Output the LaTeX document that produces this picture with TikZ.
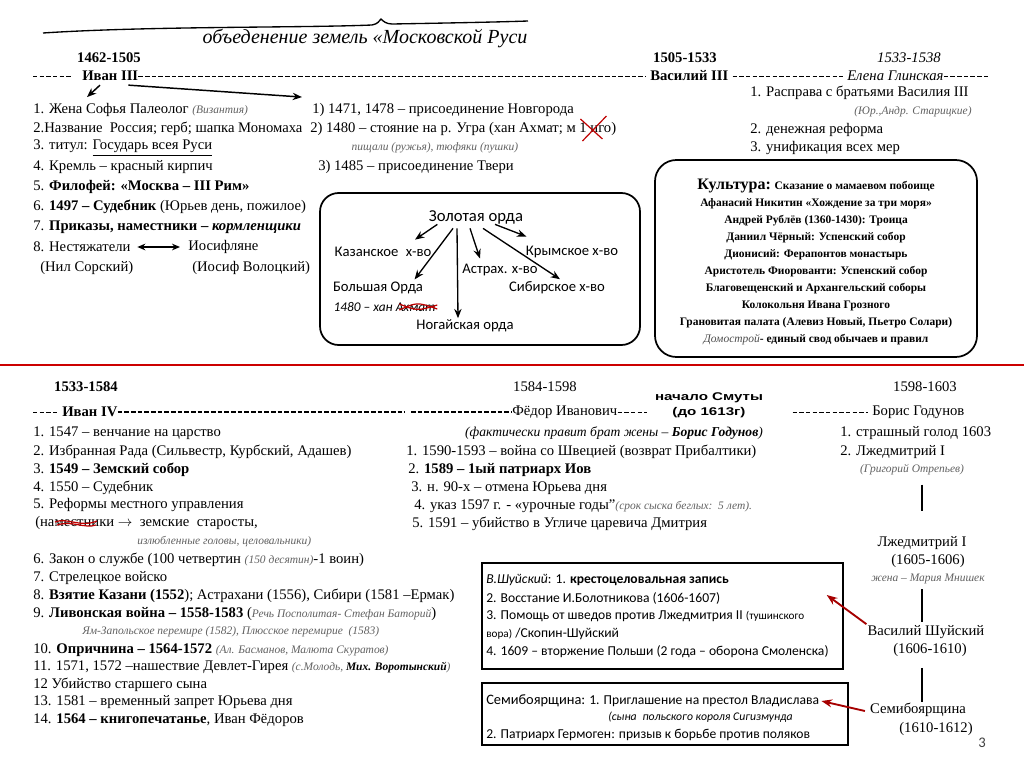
\documentclass[tikz,border=0pt]{standalone}
\usepackage{fontspec}
\setmainfont{Liberation Serif}
\newfontfamily\calibrifont{Carlito}
\newfontfamily\smutafont[FakeStretch=1.35]{Liberation Sans}
\usetikzlibrary{arrows.meta, calc}
\newcommand{\smallnote}[1]{{\fontsize{8.6}{10}\selectfont\itshape\color{black!62}#1}}
\tikzset{
    base_txt/.style={anchor=west, inner sep=0pt, font=\fontsize{11}{13}\selectfont},
    bold_txt/.style={inner sep=0pt, font=\fontsize{11}{13}\selectfont\bfseries},
    note_txt/.style={inner sep=0pt, text=black!62, font=\fontsize{8.6}{10}\selectfont\itshape},
    dash_rule/.style={dash pattern=on 3.3pt off 1.7pt, line width=0.6pt},
    dash_rule_bold/.style={dash pattern=on 3.6pt off 1.4pt, line width=1.1pt},
    blk_arrow/.style={-{Stealth[length=7pt, width=5.5pt]}, line width=1.1pt},
    dbl_arrow/.style={{Stealth[length=6pt, width=5pt]}-{Stealth[length=6pt, width=5pt]}, line width=1.1pt},
    horde_item/.style={inner sep=1pt, font=\calibrifont\fontsize{11}{13}\selectfont},
    horde_arrow/.style={-{Stealth[length=7pt, width=5.5pt]}, line width=1pt},
    round_frame/.style={draw, rounded corners=14pt, line width=1.3pt},
    info_box/.style={draw, line width=1.1pt, inner sep=0pt},
    box_txt/.style={anchor=west, inner sep=0pt, font=\calibrifont\fontsize{10.2}{12}\selectfont},
    culture_txt/.style={inner sep=0pt, align=center, font=\fontsize{8.6}{12.75}\selectfont\bfseries},
    ruler_txt/.style={inner sep=0pt, font=\fontsize{11}{13}\selectfont},
    link_line/.style={line width=1pt},
    red_arrow/.style={-{Stealth[length=8pt, width=6pt]}, draw=red!65!black, line width=1.4pt},
    red_strike/.style={draw=red!75!black, line width=0.9pt}
}

\begin{document}
\begin{tikzpicture}[x=0.75pt, y=-0.75pt]
\useasboundingbox (0,0) rectangle (1024,767);
\fill[white] (0,0) rectangle (1024,767);

% ---------- top: Ivan III, Vasily III, Elena Glinskaya
\draw[line width=1pt] (43,33) .. controls (150,26) and (300,28) .. (372,25) .. controls (378,24) and (379,21) .. (381,19)
      .. controls (383,21) and (386,24) .. (392,24) .. controls (450,23) and (500,22) .. (528,21);
\node[inner sep=0pt, font=\fontsize{15}{17}\selectfont\itshape] (title) at (365,39) {объеденение земель «Московской Руси};

\node[bold_txt] (y1462) at (109,58) {1462-1505};
\node[bold_txt] (y1505) at (685,58) {1505-1533};
\node[ruler_txt, font=\fontsize{11}{13}\selectfont\itshape] (y1533a) at (909,58) {1533-1538};

\coordinate (row1_start) at (33,76);
\coordinate (row1_end) at (988,76);
\node[bold_txt, anchor=west] (ivan3) at (82,76) {Иван III};
\node[bold_txt, anchor=west] (vasily3) at (650,76) {Василий III};
\node[ruler_txt, anchor=west, font=\fontsize{11}{13}\selectfont\itshape] (glinskaya) at (847,76) {Елена Глинская};
\draw[dash_rule, shorten >=7pt] (row1_start) -- (ivan3.west);
\draw[dash_rule, shorten >=3pt] (ivan3.east) -- (vasily3.west);
\draw[dash_rule, shorten <=3pt, shorten >=3pt] (vasily3.east) -- (glinskaya.west);
\draw[dash_rule] (glinskaya.east) -- (row1_end);

% left column
\node[base_txt] (sofia) at (33,110) {1. Жена Софья Палеолог \smallnote{(Византия)}};
\node[base_txt] (nazvanie) at (33,129) {2.Название\enspace Россия; герб; шапка Мономаха};
\node[base_txt] (titul) at (33,148) {3. титул: \underline{Государь всея Руси}};
\node[base_txt] (kreml) at (33,167) {4. Кремль – красный кирпич};
\node[base_txt] (filofei) at (33,187) {5. \textbf{Филофей: «Москва – III Рим»}};
\node[base_txt] (sudebnik) at (33,207) {6. \textbf{1497 – Судебник} (Юрьев день, пожилое)};
\node[base_txt] (prikazy) at (33,227) {7. \textbf{Приказы, наместники – \textit{кормленщики}}};
\node[base_txt] (nestyazh) at (33,247) {8. Нестяжатели};
\node[base_txt] (iosif) at (188,247) {Иосифляне};
\node[base_txt] (nil) at (40,268) {(Нил Сорский)};
\node[base_txt] (volotsky) at (192,268) {(Иосиф Волоцкий)};
\draw[dbl_arrow, shorten <=5pt, shorten >=6pt] (nestyazh) -- (iosif);

% middle column
\node[base_txt] (novgorod) at (312,110) {1) 1471, 1478 – присоединение Новгорода};
\node[base_txt] (ugra) at (310,129) {2) 1480 – стояние на р. Угра (хан Ахмат; м 1 иго)};
\node[note_txt] (pishchali) at (435,148) {пищали (ружья), тюфяки (пушки)};
\node[base_txt] (tver) at (318,167) {3) 1485 – присоединение Твери};
\draw[red_strike] ($(ugra.east)+(-34,12)$) -- ($(ugra.east)+(-10,-13)$);
\draw[red_strike] ($(ugra.east)+(-36,-10)$) -- ($(ugra.east)+(-14,10)$);

\draw[blk_arrow] ($(ivan3.south west)+(18,4)$) -- ($(sofia.north west)+(54,-6)$);
\draw[blk_arrow] ($(ivan3.south east)+(-10,4)$) -- ($(novgorod.north west)+(-10,-6)$);

% right column
\node[base_txt] (rasprava) at (750,93) {1. Расправа с братьями Василия III};
\node[note_txt] (staritsky) at (913,112) {(Юр.,Андр. Старицкие)};
\node[base_txt] (money) at (750,130) {2. денежная реформа};
\node[base_txt] (unif) at (750,148) {3. унификация всех мер};

% golden horde
\draw[round_frame] (320,193) rectangle (640,345);
\node[horde_item, font=\calibrifont\fontsize{12.5}{14}\selectfont] (horde) at (476,217) {Золотая орда};
\node[horde_item] (kazan) at (383,252) {Казанское\enspace х-во};
\node[horde_item] (krym) at (572,252) {Крымское х-во};
\node[horde_item] (astr) at (500,270) {Астрах. х-во};
\node[horde_item] (bolsh) at (378,288) {Большая Орда};
\node[horde_item] (sibir) at (557,288) {Сибирское х-во};
\node[horde_item, anchor=west, font=\calibrifont\fontsize{10}{12}\selectfont\itshape] (akhmat) at (332,307) {1480 – хан Ахмат};
\node[horde_item] (nogai) at (465,326) {Ногайская орда};
\draw[red_strike] ($(akhmat.east)+(-38,-3)$) .. controls ($(akhmat.east)+(-20,4)$) .. ($(akhmat.east)+(0,-2)$);
\draw[red_strike] ($(akhmat.east)+(-38,3)$) .. controls ($(akhmat.east)+(-20,-5)$) .. ($(akhmat.east)+(0,2)$);
\draw[horde_arrow] ($(horde.south west)+(10,-1)$) -- ($(kazan.north east)+(-18,-6)$);
\draw[horde_arrow] ($(horde.south)+(-23,3)$) -- ($(bolsh.north east)+(-10,-1)$);
\draw[horde_arrow] ($(horde.south)+(-19,3)$) -- ($(nogai.north)+(-7,0)$);
\draw[horde_arrow] ($(horde.south)+(-6,3)$) -- ($(astr.north)+(-20,-4)$);
\draw[horde_arrow] ($(horde.south)+(7,3)$) -- ($(sibir.north)+(3,-1)$);
\draw[horde_arrow] ($(horde.south)+(19,-1)$) -- ($(krym.north west)+(2,-8)$);

% culture
\draw[round_frame, rounded corners=16pt] (655,160) rectangle (977,357);
\node[culture_txt] (culture) at (816,262) {{\fontsize{12}{13}\selectfont Культура:} Сказание о мамаевом побоище\\
    Афанасий Никитин «Хождение за три моря»\\
    Андрей Рублёв (1360-1430): Троица\\
    Даниил Чёрный: Успенский собор\\
    Дионисий: Ферапонтов монастырь\\
    Аристотель Фиорованти: Успенский собор\\
    Благовещенский и Архангельский соборы\\
    Колокольня Ивана Грозного\\
    Грановитая палата (Алевиз Новый, Пьетро Солари)\\
    {\mdseries\itshape\color{black!70}Домострой}- единый свод обычаев и правил};

\draw[red!80!black, line width=1.5pt] (0,365) -- (1024,365);

% ---------- bottom: Ivan IV, Fedor, Boris
\node[bold_txt] (y1533b) at (86,387) {1533-1584};
\node[ruler_txt] (y1584) at (545,387) {1584-1598};
\node[ruler_txt] (y1598) at (925,387) {1598-1603};

\coordinate (row2_start) at (33,412);
\coordinate (row2_gap_l) at (405,412);
\coordinate (row2_gap_r) at (411,412);
\node[bold_txt, anchor=west] (ivan4) at (62,412) {Иван IV};
\node[ruler_txt, anchor=west] (fedor) at (512,412) {Фёдор Иванович};
\node[inner sep=0pt, align=center, font=\smutafont\fontsize{8.4}{11}\selectfont\bfseries] (smuta) at (709,405) {начало Смуты\\(до 1613г)};
\node[ruler_txt, anchor=west] (godunov) at (872,412) {Борис Годунов};
\draw[dash_rule, shorten >=2pt] (row2_start) -- (ivan4.west);
\draw[dash_rule_bold] (ivan4.east) -- (row2_gap_l);
\draw[dash_rule_bold] (row2_gap_r) -- (fedor.west);
\draw[dash_rule, shorten >=6pt] (fedor.east) -- (fedor.east -| smuta.west);
\draw[dash_rule, shorten <=22pt, shorten >=3pt] (smuta.east |- godunov.west) -- (godunov.west);

\node[base_txt] (iv_l1) at (33,433) {1. 1547 – венчание на царство};
\node[base_txt] (iv_l2) at (33,452) {2. Избранная Рада (Сильвестр, Курбский, Адашев)};
\node[base_txt] (iv_l3) at (33,470) {3. \textbf{1549 – Земский собор}};
\node[base_txt] (iv_l4) at (33,488) {4. 1550 – Судебник};
\node[base_txt] (iv_l5) at (33,505) {5. Реформы местного управления};
\node[base_txt] (iv_l5a) at (35,523) {(наместники $\rightarrow$\enspace земские\enspace старосты,};
\node[note_txt, anchor=west] (iv_l5b) at (137,542) {излюбленные головы, целовальники)};
\node[base_txt] (iv_l6) at (33,560) {6. Закон о службе (100 четвертин \smallnote{(150 десятин)}-1 воин)};
\node[base_txt] (iv_l7) at (33,578) {7. Стрелецкое войско};
\node[base_txt] (iv_l8) at (33,596) {8. \textbf{Взятие Казани (1552}); Астрахани (1556), Сибири (1581 –Ермак)};
\node[base_txt] (iv_l9) at (33,614) {9. \textbf{Ливонская война – 1558-1583} (\smallnote{Речь Посполитая- Стефан Баторий})};
\node[note_txt, anchor=west] (iv_l9a) at (82,632) {Ям-Запольское перемире (1582), Плюсское перемирие\enspace (1583)};
\node[base_txt] (iv_l10) at (33,650) {10. \textbf{Опричнина – 1564-1572} \smallnote{(Ал. Басманов, Малюта Скуратов)}};
\node[base_txt] (iv_l11) at (33,667) {11. 1571, 1572 –нашествие Девлет-Гирея \smallnote{(с.Молодь, {\bfseries\color{black}Мих. Воротынский})}};
\node[base_txt] (iv_l12) at (33,685) {12 Убийство старшего сына};
\node[base_txt] (iv_l13) at (33,702) {13. 1581 – временный запрет Юрьева дня};
\node[base_txt] (iv_l14) at (33,720) {14. \textbf{1564 – книгопечатанье}, Иван Фёдоров};
\draw[red_strike] ($(iv_l5a.west)+(20,-1)$) .. controls ($(iv_l5a.west)+(32,-6)$) and ($(iv_l5a.west)+(45,5)$) .. ($(iv_l5a.west)+(62,-2)$);
\draw[red_strike] ($(iv_l5a.west)+(22,2)$) .. controls ($(iv_l5a.west)+(36,-3)$) and ($(iv_l5a.west)+(50,6)$) .. ($(iv_l5a.west)+(61,2)$);

\node[ruler_txt, font=\fontsize{10.2}{12}\selectfont\itshape] (fd_l0) at (614,433) {(фактически правит брат жены – \textbf{Борис Годунов})};
\node[base_txt] (fd_l1) at (406,452) {1. 1590-1593 – война со Швецией (возврат Прибалтики)};
\node[base_txt] (fd_l2) at (408,470) {2. \textbf{1589 – 1ый патриарх Иов}};
\node[base_txt] (fd_l3) at (411,488) {3. н. 90-х – отмена Юрьева дня};
\node[base_txt] (fd_l4) at (414,506) {4. указ 1597 г. - «урочные годы"\smallnote{(срок сыска беглых:\enspace 5 лет).}};
\node[base_txt] (fd_l5) at (412,524) {5. 1591 – убийство в Угличе царевича Дмитрия};

\node[base_txt] (bg_l1) at (840,433) {1. страшный голод 1603};
\node[base_txt] (bg_l2) at (840,452) {2. Лжедмитрий I};
\node[note_txt] (bg_l2a) at (912,470) {(Григорий Отрепьев)};

\node[ruler_txt] (lzhed) at (922,543) {Лжедмитрий I};
\node[ruler_txt] (lzhed_y) at (928,561) {(1605-1606)};
\node[note_txt] (mnishek) at (928,579) {жена – Мария Мнишек};
\node[ruler_txt] (shuisky) at (926,632) {Василий Шуйский};
\node[ruler_txt] (shuisky_y) at (930,650) {(1606-1610)};
\node[ruler_txt] (semib) at (918,710) {Семибоярщина};
\node[ruler_txt] (semib_y) at (936,729) {(1610-1612)};
\draw[link_line] ($(bg_l2a.south -| lzhed.north)+(0,9)$) -- ($(lzhed.north)+(0,-25)$);
\draw[link_line] ($(mnishek.south -| lzhed.north)+(0,5)$) -- ($(shuisky.north -| lzhed.north)+(0,-3)$);
\draw[link_line] ($(shuisky_y.south -| lzhed.north)+(0,11)$) -- ($(semib.north -| lzhed.north)+(0,-1)$);

\node[info_box, minimum width=270.75pt, minimum height=79.5pt] (box_shuisky) at (662.5,616) {};
\node[box_txt] (bs_l1) at (486,580) {\textit{В.Шуйский}: 1. \textbf{крестоцеловальная запись}};
\node[box_txt] (bs_l2) at (486,598) {2. Восстание И.Болотникова (1606-1607)};
\node[box_txt] (bs_l3) at (486,616) {3. Помощь от шведов против Лжедмитрия II {\fontsize{8.4}{10}\selectfont(тушинского}};
\node[box_txt] (bs_l4) at (486,634) {{\fontsize{8.4}{10}\selectfont вора)} /Скопин-Шуйский};
\node[box_txt] (bs_l5) at (486,652) {4. 1609 – вторжение Польши (2 года – оборона Смоленска)};

\node[info_box, minimum width=274.5pt, minimum height=46.5pt] (box_semib) at (665,714) {};
\node[box_txt] (sb_l1) at (486,701) {{\fontsize{10.8}{12}\selectfont Семибоярщина:} 1. Приглашение на престол Владислава};
\node[box_txt, font=\calibrifont\fontsize{8.8}{10}\selectfont\itshape] (sb_l2) at (608,717) {(сына\enspace польского короля Сигизмунда};
\node[box_txt] (sb_l3) at (486,735) {2. Патриарх Гермоген: призыв к борьбе против поляков};

\draw[red_arrow] ($(shuisky.north west)+(-1,-1)$) -- ($(box_shuisky.east)+(-17,-21)$);
\draw[red_arrow] ($(semib.west)+(-5,1)$) -- ($(sb_l1.east)+(2,0)$);

\node[inner sep=0pt, text=black!75, font=\calibrifont\fontsize{11}{13}\selectfont] (page_no) at (982,743) {3};
\end{tikzpicture}
\end{document}
